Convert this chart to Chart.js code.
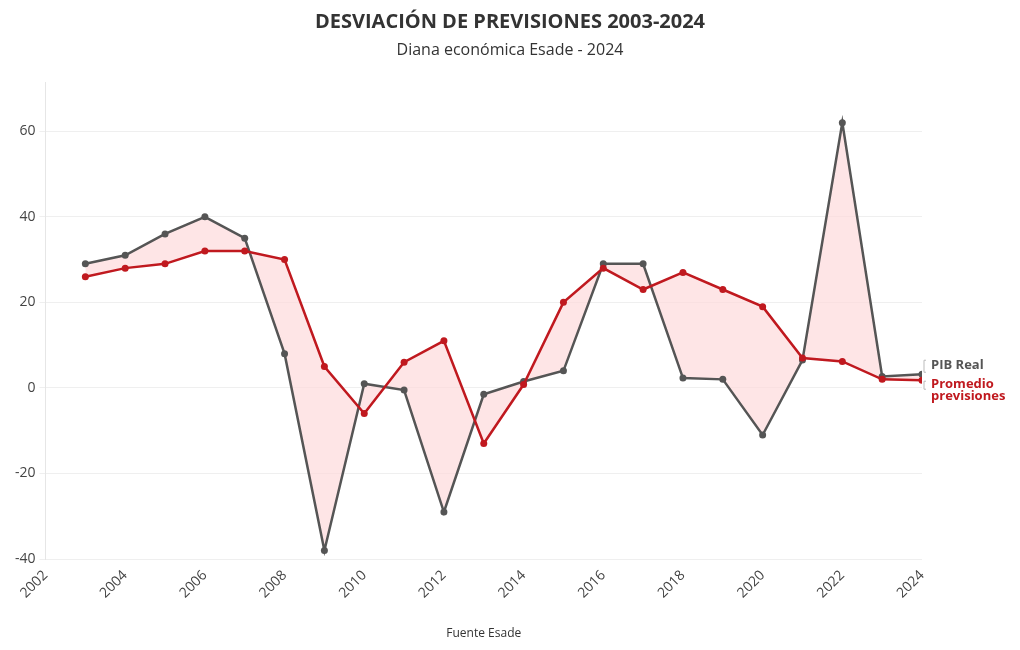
<!DOCTYPE html>
<html>
<head>
<meta charset="utf-8">
<script src="https://cdn.jsdelivr.net/npm/chart.js@4"></script>
<style>
  html, body { margin: 0; padding: 0; background: #fff; }
  #wrap { width: 1020px; height: 650px; }
</style>
</head>
<body>
<div id="wrap"><canvas id="chart"></canvas></div>
<script>
// años
const years = [2003, 2004, 2005, 2006, 2007, 2008, 2009, 2010, 2011, 2012, 2013,
  2014, 2015, 2016, 2017, 2018, 2019, 2020, 2021, 2022, 2023, 2024];
// PIB real (gris)
const pibReal = [29, 31, 36, 40, 35, 8, -38, 1, -0.5, -29, -1.5,
  1.5, 4, 29, 29, 2.3, 2, -11, 6.5, 62, 2.7, 3.2];
// Promedio de previsiones (rojo)
const promedio = [26, 28, 29, 32, 32, 30, 5, -6, 6, 11, -13,
  0.8, 20, 28, 23, 27, 23, 19, 7, 6.2, 2, 1.8];
const yTicks = [-40, -20, 0, 20, 40, 60];
const xTicks = [2002, 2004, 2006, 2008, 2010, 2012, 2014, 2016, 2018, 2020, 2022, 2024];

const GRAY = '#555555';
const RED = '#c0191f';
const FONT = "'Open Sans', 'Noto Sans', sans-serif";

function toPoints(values) {
  return years.map((y, i) => ({ x: y, y: values[i] }));
}

// titulo centrado en todo el lienzo
const headerText = {
  id: 'headerText',
  afterDraw(chart) {
    const ctx = chart.ctx;
    ctx.save();
    ctx.textAlign = 'center';
    ctx.textBaseline = 'middle';
    ctx.fillStyle = '#333333';
    ctx.font = "bold 20px " + FONT;
    ctx.fillText('DESVIACIÓN DE PREVISIONES 2003-2024', chart.width / 2, 22);
    ctx.font = "16px " + FONT;
    ctx.fillText('Diana económica Esade - 2024', chart.width / 2, 50);
    ctx.restore();
  }
};

// etiquetas al final de cada linea
const endLabels = {
  id: 'endLabels',
  afterDatasetsDraw(chart) {
    const ctx = chart.ctx;
    const x = chart.scales.x;
    const y = chart.scales.y;
    const px = x.right + 9;
    const yPib = y.getPixelForValue(pibReal[pibReal.length - 1]);
    const yProm = y.getPixelForValue(promedio[promedio.length - 1]);
    ctx.save();
    ctx.font = "bold 13px " + FONT;
    ctx.textBaseline = 'middle';
    ctx.fillStyle = GRAY;
    ctx.fillText('PIB Real', px, yPib - 9);
    ctx.fillStyle = RED;
    ctx.fillText('Promedio', px, yProm + 4);
    ctx.fillText('previsiones', px, yProm + 16);
    // pequeños corchetes
    ctx.strokeStyle = '#bbbbbb';
    ctx.lineWidth = 1;
    ctx.beginPath();
    ctx.moveTo(x.right + 4, yPib - 14); ctx.lineTo(x.right + 2, yPib - 14);
    ctx.lineTo(x.right + 2, yPib - 2); ctx.lineTo(x.right + 4, yPib - 2);
    ctx.moveTo(x.right + 4, yProm + 1); ctx.lineTo(x.right + 2, yProm + 1);
    ctx.lineTo(x.right + 2, yProm + 9); ctx.lineTo(x.right + 4, yProm + 9);
    ctx.stroke();
    ctx.restore();
  }
};

new Chart(document.getElementById('chart'), {
  type: 'line',
  data: {
    datasets: [
      {
        label: 'PIB Real',
        data: toPoints(pibReal),
        borderColor: GRAY,
        backgroundColor: GRAY,
        borderWidth: 2.5,
        pointRadius: 3.5,
        pointBackgroundColor: GRAY,
        pointBorderWidth: 0,
        fill: { target: 1, above: 'rgba(253,215,217,0.65)', below: 'rgba(253,215,217,0.65)' },
        tension: 0,
        order: 1
      },
      {
        label: 'Promedio previsiones',
        data: toPoints(promedio),
        borderColor: RED,
        backgroundColor: RED,
        borderWidth: 2.5,
        pointRadius: 3.5,
        pointBackgroundColor: RED,
        pointBorderWidth: 0,
        fill: false,
        tension: 0,
        order: 0
      }
    ]
  },
  options: {
    responsive: true,
    maintainAspectRatio: false,
    animation: false,
    layout: { padding: { left: 11, right: 98, top: 82, bottom: 7 } },
    plugins: {
      legend: { display: false },
      tooltip: { enabled: false },
      title: { display: false }
    },
    scales: {
      x: {
        type: 'linear',
        min: 2002,
        max: 2024,
        afterBuildTicks: (axis) => { axis.ticks = xTicks.map(v => ({ value: v })); },
        grid: { display: false, drawTicks: true, tickLength: 6, color: '#e6e6e6' },
        border: { display: false },
        ticks: {
          color: '#444444',
          font: { family: FONT, size: 14 },
          maxRotation: 45,
          minRotation: 45,
          padding: 2,
          callback: (v) => String(v)
        },
        title: {
          display: true,
          text: 'Fuente Esade',
          color: '#333333',
          font: { family: FONT, size: 12 },
          padding: { top: 23, bottom: 2 }
        }
      },
      y: {
        min: -40,
        max: 71.5,
        afterBuildTicks: (axis) => { axis.ticks = yTicks.map(v => ({ value: v })); },
        grid: { color: '#efefef', tickLength: 6, drawTicks: true },
        border: { color: '#e6e6e6' },
        ticks: {
          color: '#444444',
          font: { family: FONT, size: 14 },
          padding: 4
        }
      }
    }
  },
  plugins: [endLabels, headerText]
});
</script>
</body>
</html>
